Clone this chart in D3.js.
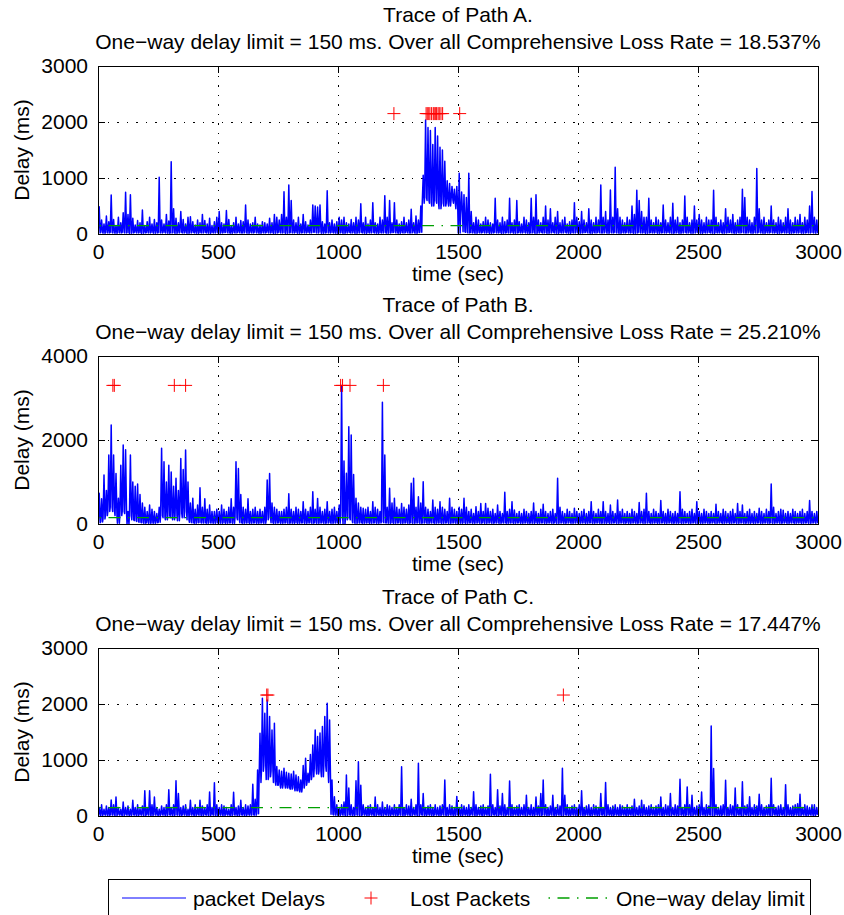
<!DOCTYPE html>
<html>
<head>
<meta charset="utf-8">
<script src="https://cdn.jsdelivr.net/npm/d3@7"></script>
<style>
    body { margin: 0; background: #fff; }
    svg { display: block; font-family: "Liberation Sans", Arial, Helvetica, sans-serif; font-size: 21px; }
    .grid line { stroke: #000; stroke-width: 1; stroke-dasharray: 1.5, 8; shape-rendering: crispEdges; }
    .box { fill: none; stroke: #000; stroke-width: 1; shape-rendering: crispEdges; }
    .tick line { shape-rendering: crispEdges; }
</style>
</head>
<body>
<svg id="fig" width="844" height="915"></svg>
<script>
// values; delays are kept as max / min per 10 s bin
const timeTicks = [0, 500, 1000, 1500, 2000, 2500, 3000];
const pathLabels = ["A", "B", "C"];
const lossRates = ["18.537", "25.210", "17.447"];
const delayTicksA = [0, 1000, 2000, 3000];
const delayTicksB = [0, 2000, 4000];
const delayTicksC = [0, 1000, 2000, 3000];
const delayLimit = 150;
const binWidth = 10;

const delayHiA = [
    488,250,180,320,220,696,260,150,300,200, 380,744,350,700,280,160,240,200,430,150,
    220,300,180,260,200,1012,250,180,350,230, 1291,450,280,200,400,260,180,300,310,220,
    160,250,200,350,240,180,280,150,220,300, 400,200,180,420,260,150,200,300,180,240,
    220,518,250,180,200,300,180,160,220,200, 180,280,200,350,300,250,350,756,300,875,
    600,250,200,300,180,350,220,160,250,520, 500,480,520,220,180,774,200,250,180,220,
    300,250,300,200,180,260,200,300,250,540, 200,300,180,250,560,200,180,300,250,685,
    300,600,200,560,250,180,220,300,200,250, 440,200,320,250,500,1050,2036,1900,1850,1600,
    1900,1750,1550,1500,1300,950,900,850,800,850, 1083,750,700,650,1083,400,200,300,250,180,
    220,300,250,200,180,637,250,200,300,220, 250,637,200,250,600,220,180,300,250,200,
    640,300,700,250,200,300,500,250,450,200, 300,400,200,250,300,180,220,250,560,300,
    220,400,250,200,450,250,200,300,250,875, 300,400,250,785,300,1190,450,300,250,200,
    300,250,500,350,780,600,400,300,300,637, 250,200,300,250,200,518,250,200,300,550,
    250,300,200,250,680,300,200,250,500,250, 350,250,200,300,250,250,780,300,200,250,
    200,450,300,250,350,200,250,300,800,650, 300,250,200,300,1170,450,250,300,200,250,
    500,250,200,300,250,200,300,450,250,200, 300,250,350,200,300,250,500,760,300,250
];
const delayLoA = [
    20,30,15,25,20,30,20,15,25,20, 30,20,25,15,20,30,20,25,15,20,
    25,20,30,15,20,25,20,30,20,15, 20,25,15,20,30,20,25,15,20,30,
    20,15,25,20,30,20,15,25,20,30, 15,20,25,30,20,15,25,20,30,20,
    20,30,15,25,20,30,20,15,25,20, 30,20,25,15,20,30,20,25,15,20,
    25,20,30,15,20,25,20,30,20,30, 30,20,40,15,20,25,20,30,20,15,
    20,25,15,20,30,20,25,15,20,30, 20,15,25,20,30,20,15,25,20,30,
    15,20,25,30,20,15,25,20,30,20, 20,30,15,25,30,550,650,600,550,500,
    600,550,450,550,500,550,500,600,550,450, 20,350,40,30,20,25,20,15,25,20,
    30,20,25,15,20,30,20,25,15,20, 25,20,30,15,20,25,20,30,20,15,
    20,25,15,20,30,20,25,15,20,30, 20,15,25,20,30,20,15,25,20,30,
    15,20,25,30,20,15,25,20,30,20, 20,30,15,25,20,30,20,15,25,20,
    30,20,25,15,20,30,20,25,15,20, 25,20,30,15,20,25,20,30,20,15,
    20,25,15,20,30,20,25,15,20,30, 20,15,25,20,30,20,15,25,20,30,
    15,20,25,30,20,15,25,20,30,20, 20,30,15,25,20,30,20,15,25,20,
    30,20,25,15,20,30,20,25,15,20, 25,20,30,15,20,25,20,30,20,15
];

const delayHiB = [
    730,600,1167,800,1643,2357,1643,1200,611,1400, 1881,1770,300,1643,1000,900,950,700,500,400,
    300,450,350,300,250,400,1802,1480,1000,1400, 1240,900,1090,800,1560,1300,1762,1000,500,611,
    350,450,865,400,600,350,450,300,300,350, 300,450,350,300,400,600,400,1480,1320,700,
    400,350,600,300,350,400,300,350,300,400, 1048,1200,500,400,350,300,300,350,400,720,
    350,300,400,350,300,532,350,300,400,770, 350,610,400,300,350,532,300,350,400,300,
    450,3300,1500,1207,2317,2119,1180,611,500,400, 373,350,400,300,532,400,350,300,2897,1643,
    400,849,500,611,400,350,490,400,350,450, 969,1087,400,651,500,1008,400,350,300,571,
    400,350,532,400,350,300,611,400,350,300, 400,350,611,400,300,350,250,413,300,490,
    300,490,373,300,350,250,452,300,250,754, 300,350,532,333,250,300,250,350,300,250,
    300,500,300,250,350,470,300,250,300,350, 250,1087,400,300,250,350,300,250,373,300,
    250,300,350,250,300,532,300,250,350,300, 532,300,250,450,300,250,570,300,350,250,
    300,250,350,300,250,510,300,350,730,300, 250,350,300,250,560,300,250,350,300,250,
    300,250,770,350,300,250,300,350,250,532, 300,250,350,300,250,300,250,470,300,250,
    350,300,250,300,350,250,490,300,450,250, 300,350,250,300,250,373,300,250,350,300,
    952,400,250,300,350,330,250,300,250,350, 300,250,300,350,250,300,560,300,250,300
];
const delayLoB = [
    30,50,120,200,300,400,300,200,20,200, 300,250,0,200,100,80,60,40,30,20,
    30,20,25,20,30,40,200,150,100,200, 150,100,200,80,250,150,300,100,40,30,
    20,30,40,25,30,20,30,25,20,30, 25,20,30,20,25,30,20,150,100,30,
    20,25,30,20,25,30,20,25,30,20, 100,150,30,20,25,30,20,25,30,20,
    25,20,30,20,25,30,20,25,30,20, 30,20,25,30,20,25,30,20,25,30,
    20,200,0,100,150,100,30,20,25,30, 20,25,30,20,25,30,20,25,50,30,
    25,20,30,20,25,30,20,25,30,20, 30,20,25,30,20,25,30,20,25,30,
    20,25,30,20,25,30,20,25,30,20, 25,20,30,20,25,30,20,25,30,20,
    30,20,25,30,20,25,30,20,25,30, 20,25,30,20,25,30,20,25,30,20,
    25,20,30,20,25,30,20,25,30,20, 30,20,25,30,20,25,30,20,25,30,
    20,25,30,20,25,30,20,25,30,20, 25,20,30,20,25,30,20,25,30,20,
    30,20,25,30,20,25,30,20,25,30, 20,25,30,20,25,30,20,25,30,20,
    25,20,30,20,25,30,20,25,30,20, 30,20,25,30,20,25,30,20,25,30,
    20,25,30,20,25,30,20,25,30,20, 25,20,30,20,25,30,20,25,30,20,
    30,20,25,30,20,25,30,20,25,30, 20,25,30,20,25,30,20,25,30,20
];

const delayHiC = [
    150,200,120,180,150,286,200,340,150,120, 250,150,180,120,280,150,200,130,180,452,
    150,452,200,340,150,120,180,150,200,470, 150,200,631,400,150,180,200,120,280,150,
    200,150,280,180,150,200,430,150,595,200, 150,200,180,150,120,200,425,150,180,280,
    150,200,180,200,565,300,821,1477,2102,1834, 2072,1775,1537,1656,883,821,800,851,780,762,
    750,800,732,700,643,900,1030,762,1100,1270, 1537,1418,1480,1596,1775,2012,1715,643,345,200,
    150,200,250,732,500,200,150,630,970,550, 200,150,180,200,150,340,200,150,250,150,
    200,180,150,200,150,200,881,150,200,180, 300,150,200,940,200,400,150,180,200,150,
    200,150,180,200,643,150,200,180,150,350, 150,200,180,150,200,150,434,200,150,180,
    200,150,180,744,200,150,470,180,400,200, 150,625,200,150,180,200,150,200,370,150,
    200,150,340,180,400,643,200,150,180,370, 150,200,180,851,370,200,150,180,200,150,
    200,450,150,180,200,150,200,180,150,400, 150,600,200,150,180,200,150,200,180,150,
    200,150,180,300,150,180,280,200,150,180, 200,150,180,200,340,150,200,180,400,150,
    200,180,655,150,200,520,200,370,150,180, 200,430,150,200,180,1607,850,200,150,180,
    200,640,150,200,180,500,200,150,613,180, 200,345,150,200,180,390,200,150,180,200,
    673,200,150,180,200,150,560,200,150,180, 200,220,390,150,200,180,150,200,200,150
];
const delayLoC = [
    15,10,20,15,10,20,15,10,20,15, 10,20,15,10,20,15,10,20,15,10,
    20,15,10,20,15,10,20,15,10,20, 15,10,20,15,10,20,15,10,20,15,
    10,20,15,10,20,15,10,20,15,10, 20,15,10,20,15,10,20,15,10,20,
    15,10,20,15,20,15,40,600,800,900, 650,700,800,600,550,550,500,550,500,500,
    480,500,450,450,430,500,550,600,650,700, 850,750,800,700,900,800,600,30,20,15,
    10,20,15,10,20,15,10,20,15,10, 20,15,10,20,15,10,20,15,10,20,
    15,10,20,15,10,20,15,10,20,15, 10,20,15,10,20,15,10,20,15,10,
    20,15,10,20,15,10,20,15,10,20, 15,10,20,15,10,20,15,10,20,15,
    10,20,15,10,20,15,10,20,15,10, 20,15,10,20,15,10,20,15,10,20,
    15,10,20,15,10,20,15,10,20,15, 10,20,15,10,20,15,10,20,15,10,
    20,15,10,20,15,10,20,15,10,20, 15,10,20,15,10,20,15,10,20,15,
    10,20,15,10,20,15,10,20,15,10, 20,15,10,20,15,10,20,15,10,20,
    15,10,20,15,10,20,15,10,20,15, 10,20,15,10,20,15,10,20,15,10,
    20,15,10,20,15,10,20,15,10,20, 15,10,20,15,10,20,15,10,20,15,
    10,20,15,10,20,15,10,20,15,10, 20,15,10,20,15,10,20,15,10,20
];

// lost packets: time (sec) and the level they are drawn at (ms)
const lostTimesA = [1233, 1367, 1372, 1378, 1383, 1390, 1397, 1401, 1407, 1411, 1417, 1422, 1429, 1436, 1507];
const lostTimesB = [62, 68, 318, 365, 1011, 1019, 1050, 1189];
const lostTimesC = [703, 708, 1939];
const lostLevels = [2150, 3300, 2160];

const legendLabels = ["packet Delays", "Lost Packets", "One\u2212way delay limit"];

// layout
const left = 98, right = 818, plotH = 168;
const panelTops = [66, 356, 648];
const tickLen = 7;
const limitDash = "12,7.5,1.5,7.5";

class TracePanel {
    constructor(svg, idx, hi, lo, lost, yTicks) {
        this.svg = svg;
        this.idx = idx;
        this.hi = hi;
        this.lo = lo;
        this.lost = lost;
        this.yTicks = yTicks;
        this.top = panelTops[idx];
        this.bottom = this.top + plotH;
        this.x = d3.scaleLinear().domain([0, 3000]).range([left, right]);
        this.y = d3.scaleLinear().domain([0, d3.max(yTicks)]).range([this.bottom, this.top]);
    }

    render() {
        let x = this.x, y = this.y, top = this.top, bottom = this.bottom;
        let g = this.svg.append("g");

        // Two line title
        g.append("text").attr("x", (left + right) / 2).attr("y", top - 44)
            .attr("text-anchor", "middle").text(`Trace of Path ${pathLabels[this.idx]}.`);
        g.append("text").attr("x", (left + right) / 2).attr("y", top - 17)
            .attr("text-anchor", "middle")
            .text(`One\u2212way delay limit = ${delayLimit} ms. Over all Comprehensive Loss Rate = ${lossRates[this.idx]}%`);

        // dotted grid
        let grid = g.append("g").attr("class", "grid");
        grid.selectAll("line.gx").data(timeTicks.slice(1, -1)).join("line").attr("class", "gx")
            .attr("x1", d => x(d)).attr("x2", d => x(d)).attr("y1", top).attr("y2", bottom);
        grid.selectAll("line.gy").data(this.yTicks.slice(1, -1)).join("line").attr("class", "gy")
            .attr("x1", left).attr("x2", right).attr("y1", d => y(d)).attr("y2", d => y(d));

        g.append("clipPath").attr("id", "clip" + this.idx)
            .append("rect").attr("x", left).attr("y", top).attr("width", right - left).attr("height", plotH);
        let plot = g.append("g").attr("clip-path", `url(#clip${this.idx})`);

        // packet delays: for every bin go min -> max -> min
        let pts = [];
        this.hi.forEach((h, i) => {
            let t0 = i * binWidth;
            pts.push([t0 + 1, this.lo[i]], [t0 + 5, h], [t0 + 9, this.lo[i]]);
        });
        plot.append("path").datum(pts)
            .attr("fill", "none").attr("stroke", "#0000ff").attr("stroke-width", 1.5)
            .attr("stroke-linejoin", "round")
            .attr("d", d3.line().x(d => x(d[0])).y(d => y(d[1])));

        // lost packets
        let level = lostLevels[this.idx];
        plot.selectAll("path.lost").data(this.lost).join("path").attr("class", "lost")
            .attr("transform", d => `translate(${x(d)},${y(level)})`)
            .attr("d", "M-6.5,0H6.5M0,-6.5V6.5")
            .attr("stroke", "#ff0000").attr("stroke-width", 1);

        // delay limit
        plot.append("line")
            .attr("x1", x(0)).attr("x2", x(3000)).attr("y1", y(delayLimit)).attr("y2", y(delayLimit))
            .attr("stroke", "#00a000").attr("stroke-width", 1.3).attr("stroke-dasharray", limitDash)
            .attr("stroke-dashoffset", 18);

        // axes, ticks pointing inward
        const fixAxis = sel => {
            sel.select(".domain").remove();
            sel.attr("font-size", 21).attr("font-family", null);
            sel.selectAll(".tick text").attr("fill", "#000");
        };
        g.append("g").attr("transform", `translate(0,${bottom})`)
            .call(d3.axisBottom(x).tickValues(timeTicks).tickFormat(d3.format("d"))
                .tickSize(-tickLen).tickPadding(10)).call(fixAxis);
        g.append("g").attr("transform", `translate(0,${top})`)
            .call(d3.axisTop(x).tickValues(timeTicks).tickSize(-tickLen).tickFormat("")).call(fixAxis);
        g.append("g").attr("transform", `translate(${left},0)`)
            .call(d3.axisLeft(y).tickValues(this.yTicks).tickFormat(d3.format("d"))
                .tickSize(-tickLen).tickPadding(10)).call(fixAxis);
        g.append("g").attr("transform", `translate(${right},0)`)
            .call(d3.axisRight(y).tickValues(this.yTicks).tickSize(-tickLen).tickFormat("")).call(fixAxis);

        g.append("rect").attr("class", "box")
            .attr("x", left).attr("y", top).attr("width", right - left).attr("height", plotH);

        g.append("text").attr("x", (left + right) / 2).attr("y", bottom + 47)
            .attr("text-anchor", "middle").text("time (sec)");
        g.append("text").attr("transform", `translate(29,${(top + bottom) / 2}) rotate(-90)`)
            .attr("text-anchor", "middle").text("Delay (ms)");
    }
}

const svg = d3.select("#fig");
new TracePanel(svg, 0, delayHiA, delayLoA, lostTimesA, delayTicksA).render();
new TracePanel(svg, 1, delayHiB, delayLoB, lostTimesB, delayTicksB).render();
new TracePanel(svg, 2, delayHiC, delayLoC, lostTimesC, delayTicksC).render();

// legend (bottom edge runs off the figure)
let legend = svg.append("g");
legend.append("rect").attr("class", "box").attr("fill", "#fff")
    .attr("x", 108).attr("y", 879).attr("width", 702).attr("height", 60);
const ly = 898;
legend.append("line").attr("x1", 122).attr("x2", 186).attr("y1", ly).attr("y2", ly)
    .attr("stroke", "#0000ff").attr("stroke-width", 1);
legend.append("path").attr("transform", `translate(371,${ly})`).attr("d", "M-6.5,0H6.5M0,-6.5V6.5")
    .attr("stroke", "#ff0000").attr("stroke-width", 1);
legend.append("line").attr("x1", 546).attr("x2", 609).attr("y1", ly).attr("y2", ly)
    .attr("stroke", "#00a000").attr("stroke-width", 1.3).attr("stroke-dasharray", limitDash)
    .attr("stroke-dashoffset", 17);
legend.selectAll("text.lg").data(legendLabels).join("text").attr("class", "lg")
    .attr("x", (d, i) => [193, 410, 616][i]).attr("y", ly + 7.5).text(d => d);
</script>
</body>
</html>
